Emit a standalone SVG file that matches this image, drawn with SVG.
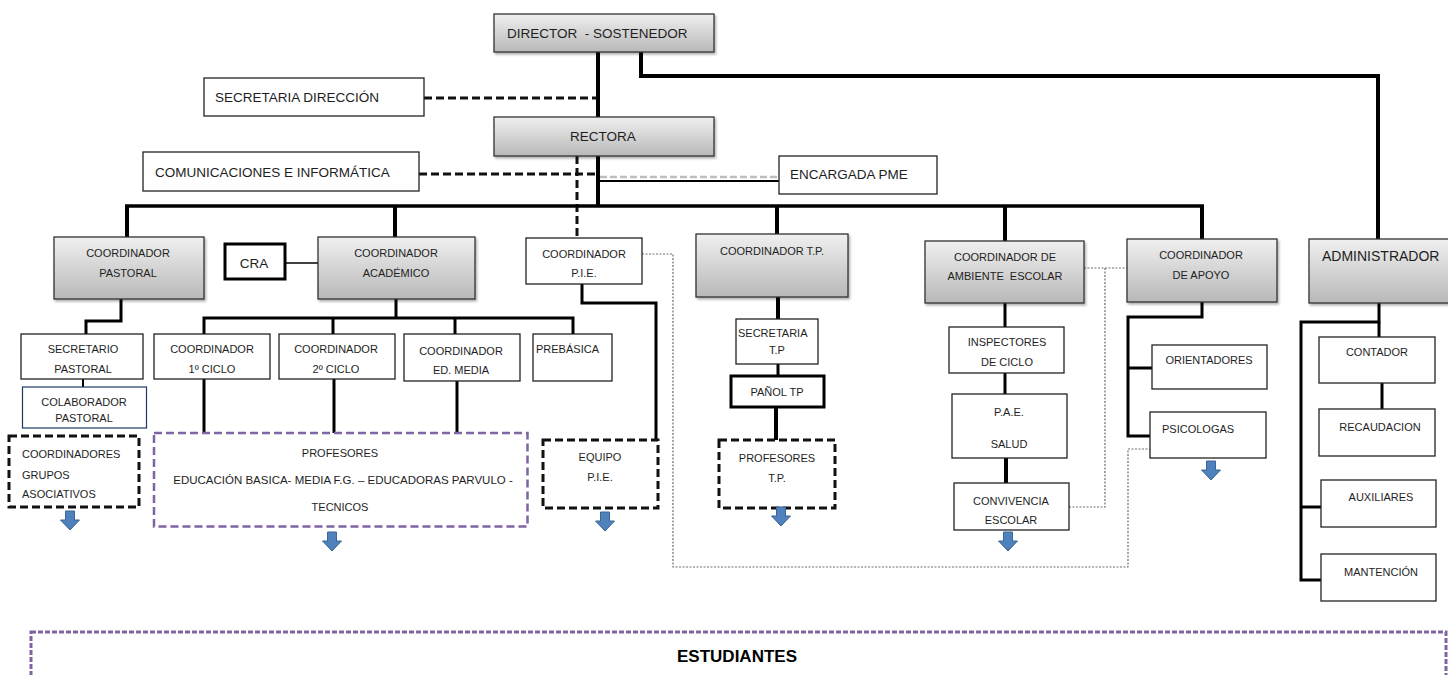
<svg xmlns="http://www.w3.org/2000/svg" width="1448" height="675" viewBox="0 0 1448 675">
<style>
.b{fill:#fff;stroke:#222;stroke-width:1.3}
.g{fill:url(#gg);stroke:#333;stroke-width:1.3;filter:url(#sh)}
.t{font-family:"Liberation Sans",Arial,sans-serif;font-size:11px;fill:#1e1e1e;white-space:pre}
.m{text-anchor:middle}
.big{font-size:13.5px}
.c4{stroke:#000;stroke-width:4;fill:none}
.c3{stroke:#000;stroke-width:3;fill:none}
.dash{stroke:#111;stroke-width:3;stroke-dasharray:8 4;fill:none}
.dot{stroke:#6e6e6e;stroke-width:1.2;stroke-dasharray:2 1.5;fill:none}
.db{fill:#fff;stroke:#111;stroke-width:3;stroke-dasharray:8 4}
.pu{fill:#fff;stroke:#8064a2;stroke-width:2.5;stroke-dasharray:8 4}
.arr{fill:#4f81bd;stroke:#3a6595;stroke-width:1}
</style>
<defs>
<linearGradient id="gg" x1="0" y1="0" x2="0" y2="1">
<stop offset="0" stop-color="#f0f0f0"/>
<stop offset="1" stop-color="#b8b8b8"/>
</linearGradient>
<filter id="sh" x="-10%" y="-10%" width="130%" height="140%">
<feDropShadow dx="1.5" dy="2" stdDeviation="1.2" flood-color="#000" flood-opacity="0.3"/>
</filter>
<path id="arrow" class="arr" d="M-4.5,0H4.5V9H9.5L0,19L-9.5,9H-4.5Z"/>
</defs>

<g id="connectors">
<line class="c4" x1="598" y1="52" x2="598" y2="117"/>
<polyline class="c4" points="641,52 641,76 1378,76 1378,239"/>
<line class="dash" x1="424" y1="98" x2="597" y2="98"/>
<line class="dash" x1="419" y1="174" x2="597" y2="174"/>
<line class="dash" x1="577" y1="156" x2="577" y2="238" stroke-width="2.5"/>
<line class="c4" x1="598" y1="156" x2="598" y2="206"/>
<line x1="600" y1="177" x2="779" y2="177" stroke="#bdbdbd" stroke-width="2.5" stroke-dasharray="7 3"/>
<line x1="600" y1="181" x2="779" y2="181" stroke="#000" stroke-width="1.8"/>
<line x1="125" y1="206" x2="1204" y2="206" stroke="#000" stroke-width="3.5"/>
<line class="c4" x1="127" y1="206" x2="127" y2="237"/>
<line class="c4" x1="395" y1="206" x2="395" y2="237"/>
<line class="c4" x1="777" y1="206" x2="777" y2="234"/>
<line class="c4" x1="1005" y1="206" x2="1005" y2="241"/>
<line class="c4" x1="1202" y1="206" x2="1202" y2="239"/>
<line x1="285" y1="263" x2="318" y2="263" stroke="#000" stroke-width="1.5"/>
<polyline class="c3" points="121,299 121,321 86,321 86,334"/>
<line class="c3" x1="396" y1="299" x2="396" y2="318"/>
<polyline class="c3" points="204,334 204,318 573,318 573,334"/>
<line class="c3" x1="333" y1="318" x2="333" y2="334"/>
<line class="c3" x1="455" y1="318" x2="455" y2="334"/>
<line x1="83" y1="379" x2="83" y2="387" stroke="#000" stroke-width="2"/>
<line class="c3" x1="204" y1="379" x2="204" y2="433"/>
<line class="c3" x1="334" y1="379" x2="334" y2="433"/>
<line class="c3" x1="457" y1="381" x2="457" y2="433"/>
<polyline class="c3" points="582,284 582,303 656,303 656,441"/>
<polyline class="dot" points="642,254 673,254 673,567 1128,567 1128,449 1150,449"/>
<line class="c4" x1="778" y1="297" x2="778" y2="319"/>
<line class="c3" x1="778" y1="364" x2="778" y2="376"/>
<line class="c4" x1="776" y1="407" x2="776" y2="440"/>
<line class="c3" x1="1005" y1="303" x2="1005" y2="327"/>
<line class="c3" x1="1005" y1="373" x2="1005" y2="394"/>
<line class="c4" x1="1006" y1="458" x2="1006" y2="483"/>
<line class="dot" x1="1084" y1="268" x2="1127" y2="268"/>
<polyline class="dot" points="1105,268 1105,507 1069,507"/>
<polyline class="c3" points="1202,302 1202,317 1128,317 1128,436 1150,436" stroke-width="3.5"/>
<line class="c3" x1="1128" y1="368" x2="1152" y2="368" stroke-width="3.5"/>
<polyline class="c3" points="1379,303 1379,322 1301,322 1301,580 1321,580" stroke-width="3.5"/>
<line class="c3" x1="1379" y1="322" x2="1379" y2="337" stroke-width="3.5"/>
<line class="c3" x1="1301" y1="507" x2="1321" y2="507" stroke-width="3.5"/>
<line class="c3" x1="1382" y1="383" x2="1382" y2="409" stroke-width="3.5"/>
</g>

<g id="director"><rect class="g" x="494" y="14" width="220" height="38"/><text class="t big" x="507" y="38">DIRECTOR  - SOSTENEDOR</text></g>
<g id="secretaria-direccion"><rect class="b" x="204" y="78" width="220" height="38"/><text class="t big" x="215" y="101.5">SECRETARIA DIRECCIÓN</text></g>
<g id="rectora"><rect class="g" x="494" y="117" width="220" height="39"/><text class="t big m" x="603" y="141">RECTORA</text></g>
<g id="comunicaciones"><rect class="b" x="143" y="152" width="276" height="39"/><text class="t big" x="155" y="176.5">COMUNICACIONES E INFORMÁTICA</text></g>
<g id="encargada-pme"><rect class="b" x="779" y="156" width="158" height="38"/><text class="t big" x="790" y="179">ENCARGADA PME</text></g>

<g id="coord-pastoral"><rect class="g" x="54" y="237" width="150" height="62"/><text class="t m" x="128" y="257">COORDINADOR</text><text class="t m" x="128" y="277">PASTORAL</text></g>
<g id="cra"><rect x="225" y="244" width="60" height="35" fill="#fff" stroke="#000" stroke-width="3"/><text class="t m" x="254" y="267.5" style="font-size:13.5px">CRA</text></g>
<g id="coord-academico"><rect class="g" x="318" y="237" width="157" height="62"/><text class="t m" x="396" y="257">COORDINADOR</text><text class="t m" x="396" y="277">ACADÉMICO</text></g>
<g id="coord-pie"><rect class="b" x="526" y="238" width="116" height="46"/><text class="t m" x="584" y="258">COORDINADOR</text><text class="t m" x="584" y="277">P.I.E.</text></g>
<g id="coord-tp"><rect class="g" x="696" y="234" width="152" height="63"/><text class="t m" x="772" y="255">COORDINADOR T.P.</text></g>
<g id="coord-ambiente"><rect class="g" x="925" y="241" width="159" height="62"/><text class="t m" x="1005" y="261">COORDINADOR DE</text><text class="t m" x="1005" y="280">AMBIENTE  ESCOLAR</text></g>
<g id="coord-apoyo"><rect class="g" x="1127" y="239" width="150" height="63"/><text class="t m" x="1201" y="259">COORDINADOR</text><text class="t m" x="1201" y="279">DE APOYO</text></g>
<g id="administrador"><rect class="g" x="1309" y="239" width="150" height="64"/><text class="t" x="1322" y="261" style="font-size:14px">ADMINISTRADOR</text></g>

<g id="secretario-pastoral"><rect class="b" x="21" y="334" width="122" height="45"/><text class="t m" x="83" y="353">SECRETARIO</text><text class="t m" x="83" y="373">PASTORAL</text></g>
<g id="coord-1ciclo"><rect class="b" x="154" y="334" width="116" height="45"/><text class="t m" x="212" y="353">COORDINADOR</text><text class="t m" x="212" y="373">1º CICLO</text></g>
<g id="coord-2ciclo"><rect class="b" x="279" y="334" width="116" height="45"/><text class="t m" x="336" y="353">COORDINADOR</text><text class="t m" x="336" y="373">2º CICLO</text></g>
<g id="coord-edmedia"><rect class="b" x="404" y="334" width="116" height="47"/><text class="t m" x="461" y="355">COORDINADOR</text><text class="t m" x="461" y="374">ED. MEDIA</text></g>
<g id="prebasica"><rect class="b" x="533" y="334" width="79" height="47"/><text class="t" x="536" y="353">PREBÁSICA</text></g>
<g id="secretaria-tp"><rect class="b" x="736" y="319" width="82" height="45"/><text class="t" x="738" y="337">SECRETARIA</text><text class="t m" x="777" y="354">T.P</text></g>
<g id="panol-tp"><rect x="731" y="376" width="93" height="31" fill="#fff" stroke="#000" stroke-width="3"/><text class="t m" x="777" y="395.5">PAÑOL TP</text></g>
<g id="inspectores"><rect class="b" x="949" y="327" width="115" height="46"/><text class="t m" x="1007" y="346">INSPECTORES</text><text class="t m" x="1007" y="366">DE CICLO</text></g>
<g id="orientadores"><rect class="b" x="1152" y="345" width="115" height="44"/><text class="t m" x="1209" y="364">ORIENTADORES</text></g>
<g id="contador"><rect class="b" x="1319" y="337" width="116" height="46"/><text class="t m" x="1377" y="356">CONTADOR</text></g>
<g id="colaborador-pastoral"><rect x="22.5" y="387" width="124" height="41" fill="#fff" stroke="#1f3864" stroke-width="1.2"/><text class="t m" x="84" y="405.5">COLABORADOR</text><text class="t m" x="84" y="421.5">PASTORAL</text></g>
<g id="pae-salud"><rect class="b" x="952" y="394" width="115" height="64"/><text class="t m" x="1009" y="416">P.A.E.</text><text class="t m" x="1009" y="448">SALUD</text></g>
<g id="psicologas"><rect class="b" x="1150" y="412" width="116" height="46"/><text class="t" x="1162" y="433">PSICOLOGAS</text></g>
<g id="recaudacion"><rect class="b" x="1319" y="409" width="116" height="47"/><text class="t m" x="1380" y="431">RECAUDACION</text></g>
<g id="auxiliares"><rect class="b" x="1321" y="480" width="115" height="47"/><text class="t m" x="1381" y="501">AUXILIARES</text></g>
<g id="mantencion"><rect class="b" x="1321" y="554" width="115" height="47"/><text class="t m" x="1381" y="576">MANTENCIÓN</text></g>

<g id="coordinadores-grupos"><rect class="db" x="9" y="436" width="130" height="71"/><text class="t" x="22" y="457.5">COORDINADORES</text><text class="t" x="22" y="478.5">GRUPOS</text><text class="t" x="22" y="497.5">ASOCIATIVOS</text></g>
<g id="profesores"><rect class="pu" x="154" y="433" width="373.5" height="93.5"/><text class="t m" x="340" y="456.5">PROFESORES</text><text class="t m" x="343" y="484" style="font-size:11.5px">EDUCACIÓN BASICA- MEDIA F.G. – EDUCADORAS PARVULO -</text><text class="t m" x="340" y="510.5">TECNICOS</text></g>
<g id="equipo-pie"><rect class="db" x="543" y="440" width="115" height="68"/><text class="t m" x="600" y="461">EQUIPO</text><text class="t m" x="600" y="481">P.I.E.</text></g>
<g id="profesores-tp"><rect class="db" x="719" y="440" width="116" height="68"/><text class="t m" x="777" y="462">PROFESORES</text><text class="t m" x="777" y="482">T.P.</text></g>
<g id="convivencia"><rect class="b" x="954" y="483" width="115" height="47"/><text class="t m" x="1011" y="505">CONVIVENCIA</text><text class="t m" x="1011" y="524">ESCOLAR</text></g>

<g id="arrows">
<use href="#arrow" x="70" y="511"/>
<use href="#arrow" x="332" y="532"/>
<use href="#arrow" x="605" y="512"/>
<use href="#arrow" x="781" y="507"/>
<use href="#arrow" x="1008" y="532"/>
<use href="#arrow" x="1211" y="461"/>
</g>

<g id="estudiantes"><rect x="31" y="632" width="1415" height="70" fill="#fff" stroke="#8064a2" stroke-width="3" stroke-dasharray="5 2"/><text class="t m" x="737" y="662" style="font-size:17px;font-weight:bold;fill:#000">ESTUDIANTES</text></g>
</svg>
